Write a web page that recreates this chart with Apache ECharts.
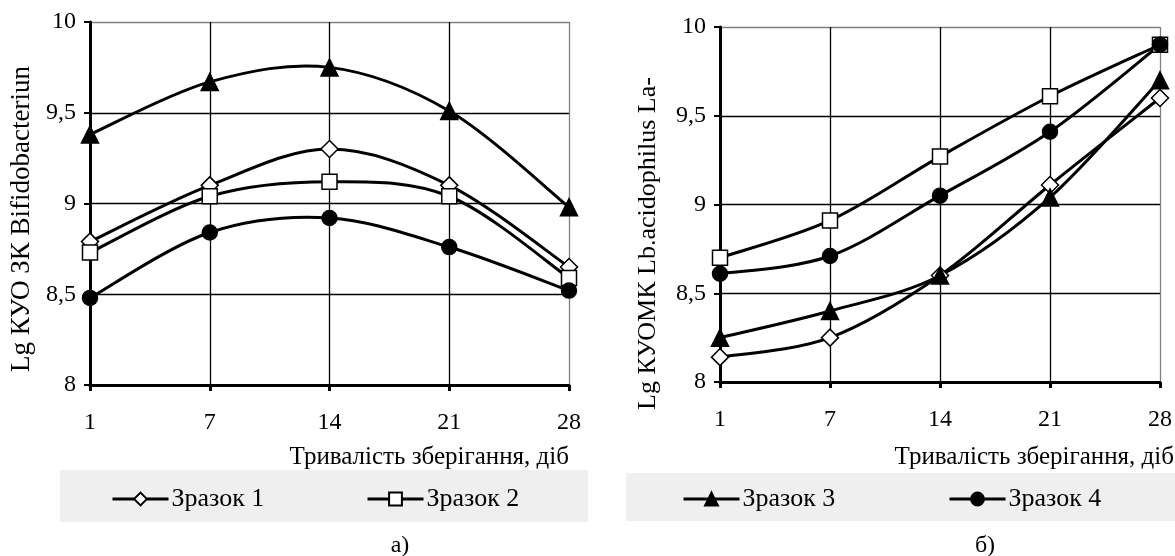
<!DOCTYPE html>
<html>
<head>
<meta charset="utf-8">
<script src="https://cdn.jsdelivr.net/npm/echarts@6/dist/echarts.min.js"></script>
<style>
html,body{margin:0;padding:0;background:#fff;}
#chart{width:1175px;height:556px;}
</style>
</head>
<body>
<div id="chart"></div>
<script>
// ---- data ----
var days = ['1', '7', '14', '21', '28'];
var yTicks = ['8', '8,5', '9', '9,5', '10'];
var seriesNames = ['Зразок 1', 'Зразок 2', 'Зразок 3', 'Зразок 4'];
// chart a) Bifidobacterium
var a1 = [8.79, 9.10, 9.30, 9.10, 8.65];
var a2 = [8.73, 9.04, 9.12, 9.04, 8.59];
var a3 = [9.38, 9.67, 9.75, 9.51, 8.98];
var a4 = [8.48, 8.84, 8.92, 8.76, 8.52];
// chart б) Lb.acidophilus
var b1 = [8.14, 8.25, 8.60, 9.11, 9.60];
var b2 = [8.70, 8.91, 9.27, 9.61, 9.90];
var b3 = [8.25, 8.40, 8.60, 9.04, 9.70];
var b4 = [8.61, 8.71, 9.05, 9.41, 9.90];
var xTitle = 'Тривалість зберігання, діб';
var yTitleA = 'Lg КУО ЗК Bifidobacteriun';
var yTitleB = 'Lg КУОМК Lb.acidophilus La-';
var captions = ['а)', 'б)'];

var FONT = 'Liberation Serif';
var chart = echarts.init(document.getElementById('chart'), null, {renderer: 'canvas'});

var markers = [
  {symbol: 'diamond', size: 17, fill: '#ffffff'},
  {symbol: 'rect', size: 15, fill: '#ffffff'},
  {symbol: 'triangle', size: 17, fill: '#000000'},
  {symbol: 'circle', size: 15, fill: '#000000'}
];

// Excel-like smoothed curve (Catmull-Rom bezier) drawn through the axis scales
function mkCurve(values, axisIdx) {
  return {
    type: 'custom',
    xAxisIndex: axisIdx,
    yAxisIndex: axisIdx,
    coordinateSystem: 'cartesian2d',
    data: [[0, values[0]]],
    silent: true,
    z: 2,
    renderItem: function (params, api) {
      var pts = values.map(function (v, i) { return api.coord([i, v]); });
      var n = pts.length;
      var children = [];
      for (var i = 0; i < n - 1; i++) {
        var p0 = pts[Math.max(i - 1, 0)], p1 = pts[i], p2 = pts[i + 1], p3 = pts[Math.min(i + 2, n - 1)];
        children.push({
          type: 'bezierCurve',
          shape: {
            x1: p1[0], y1: p1[1], x2: p2[0], y2: p2[1],
            cpx1: p1[0] + (p2[0] - p0[0]) / 6, cpy1: p1[1] + (p2[1] - p0[1]) / 6,
            cpx2: p2[0] - (p3[0] - p1[0]) / 6, cpy2: p2[1] - (p3[1] - p1[1]) / 6
          },
          style: {stroke: '#000', lineWidth: 3, fill: null}
        });
      }
      return {type: 'group', children: children};
    }
  };
}

function mkSeries(idx, data, axisIdx) {
  var m = markers[idx];
  return {
    type: 'line',
    name: seriesNames[idx],
    xAxisIndex: axisIdx,
    yAxisIndex: axisIdx,
    data: data,
    symbol: m.symbol,
    symbolSize: m.size,
    showAllSymbol: true,
    lineStyle: {color: '#000', width: 3, opacity: 0},
    itemStyle: {color: m.fill, borderColor: '#000', borderWidth: 1.5, opacity: 1},
    emphasis: {disabled: true},
    z: 3 + idx,
    animation: false
  };
}

function mkX(gi) {
  return {
    type: 'category', gridIndex: gi, data: days, boundaryGap: false,
    axisLine: {show: true, lineStyle: {color: '#000', width: 3}},
    axisTick: {show: true, length: 6, lineStyle: {color: '#000', width: 3}},
    axisLabel: {color: '#000', fontFamily: FONT, fontSize: 24, margin: 26},
    splitLine: {show: true, lineStyle: {color: ['#000', '#000', '#000', '#000', '#808080'], width: 1.3}}
  };
}
function mkY(gi) {
  return {
    type: 'value', gridIndex: gi, min: 8, max: 10, interval: 0.5,
    axisLine: {show: true, onZero: false, lineStyle: {color: '#000', width: 3}},
    axisTick: {show: true, length: 6, lineStyle: {color: '#000', width: 2}},
    axisLabel: {color: '#000', fontFamily: FONT, fontSize: 24, margin: 14,
      formatter: function (v) { return yTicks[Math.round((v - 8) / 0.5)]; }},
    splitLine: {show: true, lineStyle: {color: ['#000', '#000', '#000', '#000', '#808080'], width: 1.3}}
  };
}

function legendItem(name, left) {
  return {
    data: [name], left: left, top: 486, orient: 'horizontal',
    itemWidth: 56, itemHeight: 16, itemGap: 0,
    selectedMode: false,
    lineStyle: {color: '#000', width: 3, opacity: 1},
    textStyle: {color: '#000', fontFamily: FONT, fontSize: 26, padding: [0, 0, 0, -2]},
    padding: 0
  };
}

var option = {
  backgroundColor: '#ffffff',
  animation: false,
  grid: [
    {left: 90, top: 22, width: 479, height: 363},
    {left: 720, top: 27, width: 440, height: 355}
  ],
  xAxis: [mkX(0), mkX(1)],
  yAxis: [mkY(0), mkY(1)],
  legend: [
    legendItem(seriesNames[0], 111),
    legendItem(seriesNames[1], 366),
    legendItem(seriesNames[2], 682),
    legendItem(seriesNames[3], 948)
  ],
  graphic: [
    {type: 'rect', z: -10, silent: true, shape: {x: 60, y: 470, width: 528, height: 52}, style: {fill: '#efefef'}},
    {type: 'rect', z: -10, silent: true, shape: {x: 626, y: 473, width: 549, height: 48}, style: {fill: '#efefef'}},
    {type: 'text', x: 569, y: 457, style: {text: xTitle, font: '25px "' + FONT + '"', fill: '#000', textAlign: 'right', textVerticalAlign: 'middle'}},
    {type: 'text', x: 1174, y: 457, style: {text: xTitle, font: '25px "' + FONT + '"', fill: '#000', textAlign: 'right', textVerticalAlign: 'middle'}},
    {type: 'text', x: 22, y: 372, rotation: Math.PI / 2, style: {text: yTitleA, font: '27px "' + FONT + '"', fill: '#000', textAlign: 'left', textVerticalAlign: 'middle'}},
    {type: 'text', x: 648, y: 410, rotation: Math.PI / 2, style: {text: yTitleB, font: '26px "' + FONT + '"', fill: '#000', textAlign: 'left', textVerticalAlign: 'middle'}},
    {type: 'text', x: 400, y: 546, style: {text: captions[0], font: '24px "' + FONT + '"', fill: '#000', textAlign: 'center', textVerticalAlign: 'middle'}},
    {type: 'text', x: 985, y: 546, style: {text: captions[1], font: '24px "' + FONT + '"', fill: '#000', textAlign: 'center', textVerticalAlign: 'middle'}}
  ],
  series: [
    mkCurve(a1, 0), mkCurve(a2, 0), mkCurve(a3, 0), mkCurve(a4, 0),
    mkCurve(b1, 1), mkCurve(b2, 1), mkCurve(b3, 1), mkCurve(b4, 1),
    mkSeries(0, a1, 0), mkSeries(1, a2, 0), mkSeries(2, a3, 0), mkSeries(3, a4, 0),
    mkSeries(0, b1, 1), mkSeries(1, b2, 1), mkSeries(2, b3, 1), mkSeries(3, b4, 1)
  ]
};
chart.setOption(option);
</script>
</body>
</html>
